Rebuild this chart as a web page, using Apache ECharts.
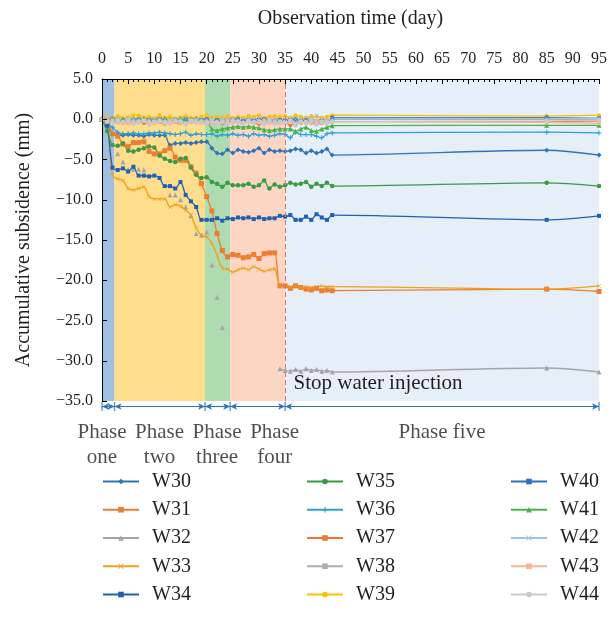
<!DOCTYPE html>
<html>
<head>
<meta charset="utf-8">
<script src="https://cdn.jsdelivr.net/npm/echarts@6/dist/echarts.min.js"></script>
<style>html,body{margin:0;padding:0;background:#fff;}#chart{width:609px;height:635px;}</style>
</head>
<body>
<div id="chart"></div>
<script>
// ---------- data ----------
const days = [0,1,2,3,4,5,6,7,8,9,10,11,12,13,14,15,16,17,18,19,20,21,22,23,24,25,26,27,28,29,30,31,32,33,34,35,36,37,38,39,40,41,42,43,44,85,95];
const xTicks = [0,5,10,15,20,25,30,35,40,45,50,55,60,65,70,75,80,85,90,95];
const yTicks = [5,0,-5,-10,-15,-20,-25,-30,-35];

const W30 = [0,-0.5,-1.8,-1.9,-2.0,-1.9,-2.0,-2.0,-2.1,-1.9,-2.0,-2.0,-2.0,-3.2,-3.0,-3.0,-2.9,-3.0,-2.9,-2.8,-2.8,-3.6,-4.2,-4.3,-3.8,-4.2,-3.8,-4.0,-4.1,-3.9,-3.6,-4.2,-3.8,-4.0,-3.9,-4.0,-3.9,-3.7,-3.8,-4.2,-3.9,-4.2,-4.0,-3.7,-4.45,-3.85,-4.45];
const W31 = [0,-0.4,-1.8,-2.1,-3.1,-3.4,-2.9,-2.9,-2.8,-4.0,-4.3,-4.3,-3.9,-3.6,-4.7,-5.1,-5.1,-5.9,-6.7,-8.0,-9.6,-11.4,-14.2,-16.3,-17.1,-16.8,-16.9,-17.2,-17.1,-16.8,-17.3,-16.7,-16.6,-16.6,-20.7,-20.7,-21.0,-20.7,-20.9,-21.1,-21.2,-21.0,-21.3,-21.2,-21.3,-21.1,-21.4];
const W32 = [0,-0.3,null,-4.3,-5.3,-6.2,-6.2,-6.2,-6.3,null,null,null,null,-9.4,-9.4,-10.0,-10.9,-12.0,-14.2,-14.4,-14.0,-18.1,-22.1,-25.9,null,null,null,null,null,null,null,null,null,null,-31.0,-31.2,-31.3,-31.1,-31.3,-31.0,-31.2,-31.1,-31.3,-31.2,-31.4,-30.9,-31.4];
const W33 = [0,-1.0,-7.0,-7.4,-7.6,-8.6,-8.8,-8.6,-8.4,-9.6,-9.9,-9.9,-9.9,-10.9,-10.6,-10.8,-11.3,-11.9,-13.5,-14.4,-14.6,-15.4,-16.9,-18.5,-18.6,-19.0,-18.7,-18.5,-18.7,-18.3,-18.6,-18.9,-18.7,-18.6,-20.7,-20.6,-20.8,-20.7,-20.9,-20.8,-20.9,-20.8,-20.7,-20.8,-20.8,-21.1,-20.7];
const W34 = [0,-0.8,-6.0,-6.3,-6.1,-6.5,-5.9,-7.0,-7.0,-7.1,-7.0,-7.3,-8.3,-8.3,-8.6,-7.8,-9.4,-10.2,-10.9,-12.5,-12.5,-12.5,-12.3,-12.6,-12.3,-12.4,-12.2,-12.3,-12.2,-12.4,-12.2,-12.4,-12.3,-12.3,-12.0,-12.1,-11.9,-12.5,-12.5,-12.1,-12.5,-11.8,-12.2,-12.5,-11.9,-12.5,-12.0];
const W35 = [0,-1.5,-3.2,-3.3,-3.0,-3.9,-4.0,-3.8,-3.6,-3.4,-3.5,-4.5,-4.9,-5.2,-5.3,-4.9,-4.8,-6.0,-6.9,-7.3,-7.2,-7.8,-8.0,-8.4,-7.9,-8.2,-8.2,-8.2,-8.0,-8.4,-8.2,-7.6,-8.6,-8.1,-8.4,-8.2,-7.9,-8.1,-8.0,-7.8,-8.4,-8.0,-8.3,-7.9,-8.3,-7.9,-8.3];
const W36 = [0,-0.3,-1.0,-1.6,-1.8,-1.8,-1.7,-1.8,-1.8,-1.7,-1.7,-1.6,-1.7,-1.8,-1.9,-1.8,-1.6,-2.0,-1.8,-1.9,-1.9,-1.8,-2.1,-1.9,-2.0,-1.8,-2.0,-1.9,-2.1,-1.8,-2.0,-1.9,-2.1,-2.0,-1.8,-1.9,-2.3,-1.6,-1.9,-1.9,-1.9,-2.1,-2.3,-1.8,-1.7,-1.6,-1.7];
const W37 = [0,-0.2,-0.4,-0.3,-0.5,-0.3,-0.4,-0.2,-0.5,-0.4,-0.3,-0.4,-0.6,-0.3,-0.4,-0.5,-0.3,-0.4,-0.2,-0.4,-0.5,-0.4,-0.3,-0.5,-0.4,-0.3,-0.4,-0.5,-0.3,-0.4,-0.6,-0.4,-0.3,-0.5,-0.4,-0.3,-0.8,-0.4,-0.5,-0.3,-0.4,-0.6,-0.5,-0.4,-0.3,-0.3,-0.2];
const W38 = [0,0.1,-0.1,0.0,-0.2,0.1,0.0,-0.1,0.1,-0.2,0.0,0.1,-0.1,0.0,-0.2,0.1,-0.1,0.0,0.1,-0.1,0.0,-0.2,0.1,0.0,-0.1,0.1,-0.2,0.0,-0.1,0.1,0.0,-0.1,-0.2,0.0,0.1,-0.1,0.0,-0.3,0.0,-0.1,0.1,-0.2,0.0,-0.1,0.0,0.0,0.0];
const W39 = [0,0.3,0.1,0.4,0.2,0.2,0.5,0.5,0.2,0.3,0.1,0.5,0.2,0.3,0.1,0.2,0.4,0.2,0.1,0.3,0.5,0.2,0.3,0.2,0.4,0.2,0.3,0.2,0.4,0.3,0.5,0.2,0.3,0.4,0.3,0.4,0.2,0.5,0.3,0.2,0.4,0.3,0.2,0.3,0.5,0.4,0.5];
const W40 = [0,-0.1,0.0,-0.2,-0.1,-0.3,-0.1,0.0,-0.2,-0.1,-0.2,0.0,-0.1,-0.3,-0.1,-0.2,0.0,-0.1,-0.2,-0.1,0.0,-0.2,-0.1,-0.3,-0.2,-0.1,0.0,-0.2,-0.1,-0.2,-0.1,0.0,-0.2,-0.3,-0.1,-0.2,-0.1,0.0,-0.2,-0.1,-0.3,-0.5,-0.2,-0.4,0.2,0.2,0.1];
const W41 = [0,-0.1,0.1,0.0,-0.2,0.1,0.0,-0.1,0.1,0.0,-0.1,0.0,0.1,-0.1,0.0,0.1,-0.1,0.0,0.1,-0.1,-0.3,-1.2,-1.4,-1.2,-1.1,-1.0,-0.9,-1.0,-0.9,-1.0,-1.1,-1.3,-1.4,-1.3,-1.2,-1.2,-1.2,-1.5,-1.2,-1.0,-1.4,-1.5,-1.2,-1.0,-0.8,-0.75,-0.75];
const W42 = [0,0.2,0.0,0.1,-0.1,0.2,0.0,0.1,-0.1,0.0,0.2,0.1,0.0,-0.1,0.1,0.0,0.2,-0.1,0.0,0.1,0.0,0.1,-0.1,0.2,0.0,0.1,0.0,-0.1,0.1,0.0,0.1,0.2,0.0,0.1,-0.1,0.0,0.1,0.0,-0.1,0.2,0.1,0.5,0.0,-0.2,0.1,0.1,0.1];
const W43 = [0,-0.3,-0.2,-0.4,-0.3,-0.5,-0.3,-0.4,-0.2,-0.3,-0.5,-0.3,-0.4,-0.2,-0.3,-0.4,-0.5,-0.3,-0.2,-0.4,-0.3,-0.5,-0.4,-0.3,-0.2,-0.4,-0.3,-0.5,-0.3,-0.4,-0.3,-0.2,-0.4,-0.3,-0.5,-0.4,-0.3,-0.6,-0.4,-0.3,-0.5,-0.2,-0.4,-0.3,-0.3,-0.4,-0.5];
const W44 = [0,-0.2,-0.5,-0.2,-0.4,-0.1,-0.5,-0.3,-0.2,-0.6,-0.3,-0.2,-0.4,-0.5,-0.2,-0.3,-0.6,-0.2,-0.4,-0.3,-0.5,-0.2,-0.4,-0.3,-0.6,-0.2,-0.3,-0.5,-0.2,-0.4,-0.3,-0.6,-0.2,-0.5,-0.3,-0.4,-0.2,-0.7,-0.3,-0.5,-0.2,-0.6,-0.3,-0.5,-0.3,-0.2,-0.1];

const seriesNames = ['W30','W31','W32','W33','W34','W35','W36','W37','W38','W39','W40','W41','W42','W43','W44'];
const seriesValues = [W30,W31,W32,W33,W34,W35,W36,W37,W38,W39,W40,W41,W42,W43,W44];

const phaseBounds = [0, 2.4, 19.7, 24.5, 35, 95];
const phaseLabels = ['Phase\none', 'Phase\ntwo', 'Phase\nthree', 'Phase\nfour', 'Phase five'];
const phaseLabelDays = [0, 11, 22, 33, 65];
const stopDay = 35;
const stopText = 'Stop water injection';
const stopTextAt = [36.6, -32.8];
const w32LineRange = [1, 34]; // W32: line only up to day 1 and from day 34

// ---------- styles ----------
const FONT = '"Liberation Serif", "DejaVu Serif", serif';
const TXT = '#231f20';
const PLUS = 'path://M4,0H6V4H10V6H6V10H4V6H0V4H4Z';
const CROSS = 'path://M1,0L5,4L9,0L10,1L6,5L10,9L9,10L5,6L1,10L0,9L4,5L0,1Z';
const styles = [
  {c:'#2e75b6', s:'diamond', z:5},
  {c:'#ed7d31', s:'rect', z:5},
  {c:'#a5a5a5', s:'triangle', z:5},
  {c:'#eea21c', s:CROSS, z:4},
  {c:'#2060b0', s:'rect', z:4},
  {c:'#3a9a45', s:'circle', z:4.5},
  {c:'#2aa0dc', s:PLUS, z:5},
  {c:'#f07530', s:'rect', z:3},
  {c:'#adadad', s:'rect', z:4},
  {c:'#ffc000', s:'circle', z:4},
  {c:'#2f6fbf', s:'rect', z:4},
  {c:'#48b448', s:'triangle', z:5},
  {c:'#9dc3e6', s:CROSS, z:4},
  {c:'#f8b39a', s:'rect', z:4},
  {c:'#c9c9c9', s:'circle', z:5}
];
const bandColors = ['#9fc0e3', '#fedd8d', '#afdbb0', '#fcd6c3', '#e6eef7'];
const ARROW = '#2e75b6';

function lineSeries(name, data, st, extra) {
  return Object.assign({
    type: 'line', name: name, data: data,
    xAxisIndex: 0, yAxisIndex: 0,
    symbol: st.s, symbolSize: st.z, showSymbol: true, showAllSymbol: true,
    smooth: 0.3, connectNulls: false, silent: true,
    lineStyle: {color: st.c, width: 1.3},
    itemStyle: {color: st.c, borderWidth: 0},
    emphasis: {disabled: true},
    z: 2
  }, extra || {});
}

const series = [];
// background phase bands
series.push({
  type: 'line', data: [], xAxisIndex: 0, yAxisIndex: 0, z: 0, silent: true,
  markArea: {
    silent: true,
    data: phaseBounds.slice(0, -1).map((b, i) => [
      {xAxis: b, itemStyle: {color: bandColors[i], opacity: 1, borderWidth: 0}},
      {xAxis: phaseBounds[i + 1]}
    ])
  }
});
// dashed stop line + annotation
series.push({
  type: 'line', data: [], xAxisIndex: 0, yAxisIndex: 0, z: 1, silent: true,
  markLine: {
    silent: true, symbol: ['none', 'none'], label: {show: false},
    lineStyle: {color: '#e2716a', type: [5, 3], width: 1},
    data: [{xAxis: stopDay}]
  },
  markPoint: {
    silent: true,
    data: [{coord: stopTextAt, symbol: 'circle', symbolSize: 0,
      label: {show: true, position: 'right', distance: 0, formatter: stopText,
        fontFamily: FONT, fontSize: 21, color: TXT}}]
  }
});

seriesNames.forEach((name, k) => {
  const vals = seriesValues[k];
  const st = styles[k];
  if (name === 'W32') {
    const lineData = days.map((d, i) => [d, (d <= w32LineRange[0] || d >= w32LineRange[1]) ? vals[i] : null]);
    const markData = days.map((d, i) => [d, (d > w32LineRange[0] && d < w32LineRange[1]) ? vals[i] : null]);
    series.push(lineSeries(name, lineData, st));
    series.push(lineSeries(name, markData, st, {lineStyle: {color: st.c, width: 0, opacity: 0}}));
  } else {
    series.push(lineSeries(name, days.map((d, i) => [d, vals[i]]), st));
  }
});

// phase annotation row (second grid)
const arrowY = 6.5;
series.push({
  type: 'line', data: [], xAxisIndex: 1, yAxisIndex: 1, silent: true,
  markLine: {
    silent: true, symbol: ['arrow', 'arrow'], symbolSize: [5, 7],
    label: {show: false},
    lineStyle: {color: ARROW, type: 'solid', width: 1.2},
    data: phaseBounds.slice(0, -1).map((b, i) => [{coord: [b, arrowY]}, {coord: [phaseBounds[i + 1], arrowY]}])
  }
});
series.push({
  type: 'scatter', xAxisIndex: 1, yAxisIndex: 1, silent: true,
  symbol: 'rect', symbolSize: [1.3, 9],
  itemStyle: {color: ARROW},
  data: phaseBounds.map(b => [b, arrowY])
});
series.push({
  type: 'scatter', xAxisIndex: 1, yAxisIndex: 1, silent: true,
  symbolSize: 1, itemStyle: {color: 'rgba(0,0,0,0)'},
  label: {show: true, position: 'inside', formatter: p => phaseLabels[p.dataIndex],
    fontFamily: FONT, fontSize: 21, lineHeight: 25, color: TXT, align: 'center'},
  data: phaseLabelDays.map((d, i) => [d, phaseLabels[i].indexOf('\n') >= 0 ? 44.5 : 32])
});

const legendLeft = [102, 306, 510];
const legends = [0, 1, 2].map(i => ({
  data: seriesNames.slice(i * 5, i * 5 + 5),
  orient: 'vertical', left: legendLeft[i], top: 471.5, padding: 0,
  itemWidth: 36, itemHeight: 7, itemGap: 8.25, selectedMode: false,
  textStyle: {fontFamily: FONT, fontSize: 20, color: TXT, lineHeight: 20, padding: [0, 0, 0, 8]}
}));

const option = {
  animation: false,
  backgroundColor: '#ffffff',
  textStyle: {fontFamily: FONT},
  legend: legends,
  grid: [
    {left: 102, right: 10, top: 79, bottom: 234, outerBoundsMode: 'none', containLabel: false},
    {left: 102, right: 10, top: 400, height: 70, outerBoundsMode: 'none', containLabel: false}
  ],
  xAxis: [
    {
      gridIndex: 0, type: 'value', position: 'top', min: xTicks[0], max: xTicks[xTicks.length - 1], interval: 5,
      name: 'Observation time (day)', nameLocation: 'middle', nameGap: 50,
      nameTextStyle: {fontFamily: FONT, fontSize: 20, color: TXT},
      axisLine: {show: true, onZero: false, lineStyle: {color: '#000', width: 1}},
      axisTick: {show: true, inside: true, length: 5, lineStyle: {color: '#000', width: 1}},
      minorTick: {show: true, splitNumber: 5, length: 3, lineStyle: {color: '#000', width: 1}},
      axisLabel: {fontFamily: FONT, fontSize: 16, color: TXT, margin: 12},
      splitLine: {show: false}, minorSplitLine: {show: false}, z: 10
    },
    {gridIndex: 1, type: 'value', min: 0, max: 95, show: false}
  ],
  yAxis: [
    {
      gridIndex: 0, type: 'value', min: yTicks[yTicks.length - 1], max: yTicks[0], interval: 5,
      name: 'Accumulative subsidence (mm)', nameLocation: 'middle', nameRotate: 90, nameGap: 68,
      nameTextStyle: {fontFamily: FONT, fontSize: 20, color: TXT},
      axisLine: {show: true, onZero: false, lineStyle: {color: '#000', width: 1}},
      axisTick: {show: true, inside: true, length: 5, lineStyle: {color: '#000', width: 1}},
      axisLabel: {fontFamily: FONT, fontSize: 16, color: TXT, margin: 9,
        formatter: v => (v < 0 ? '\u2212' : '') + Math.abs(v).toFixed(1)},
      splitLine: {show: false}, z: 10
    },
    {gridIndex: 1, type: 'value', min: 0, max: 70, inverse: true, show: false}
  ],
  series: series
};

const chart = echarts.init(document.getElementById('chart'), null, {renderer: 'canvas', width: 609, height: 635});
chart.setOption(option);
</script>
</body>
</html>
